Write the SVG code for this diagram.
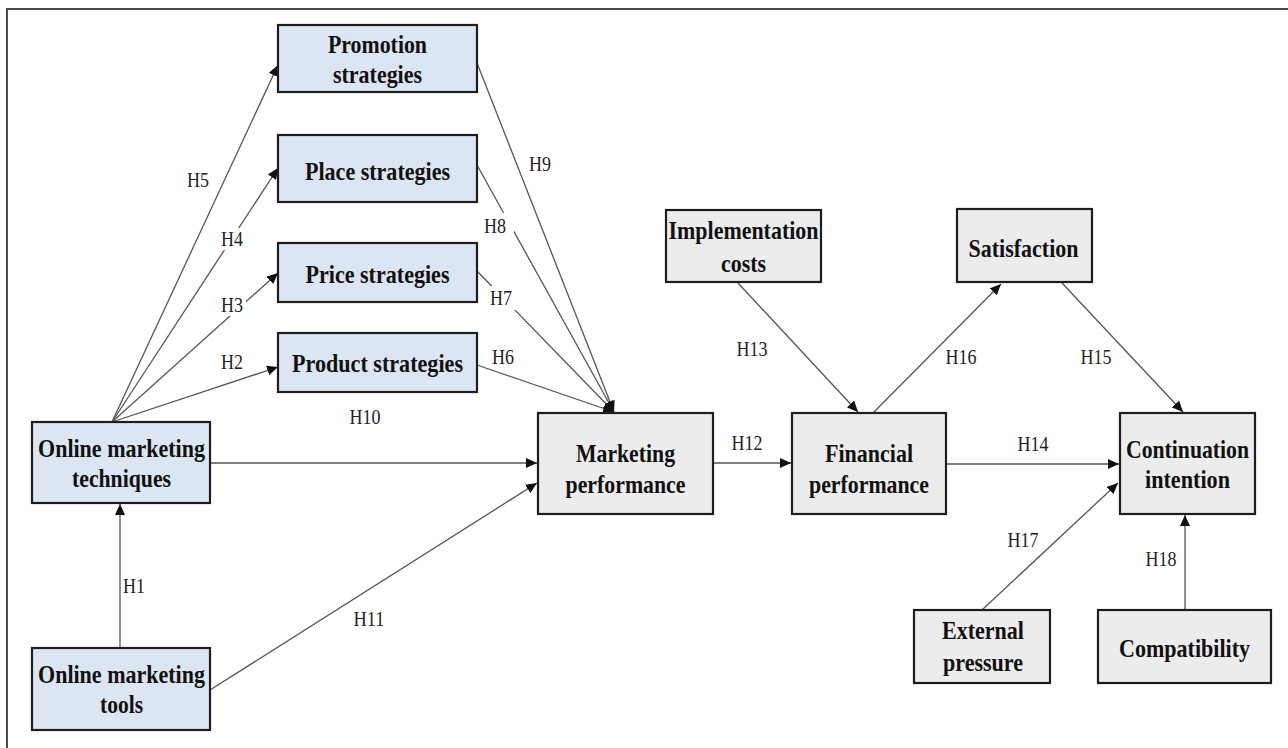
<svg xmlns="http://www.w3.org/2000/svg" width="1288" height="748" viewBox="0 0 1288 748">
<style>
.frame{stroke:#4a4a4a;stroke-width:2;fill:none}
.blue{fill:#dce6f2;stroke:#1e1e1e;stroke-width:2.2}
.gray{fill:#ececec;stroke:#1e1e1e;stroke-width:2.2}
.nt{font-family:"Liberation Serif","DejaVu Serif",serif;font-weight:bold;font-size:25px;fill:#111;text-anchor:middle}
.lb{font-family:"Liberation Serif","DejaVu Serif",serif;font-size:21px;fill:#222;text-anchor:middle}
.ln{stroke:#555;stroke-width:1.3;fill:none;marker-end:url(#ah)}
.bg{fill:#fff}
</style>
<defs>
<marker id="ah" markerUnits="userSpaceOnUse" markerWidth="12" markerHeight="10" refX="11" refY="5" orient="auto">
<path d="M0,0 L11,5 L0,10 Z" fill="#111"/>
</marker>
</defs>
<rect width="1288" height="748" fill="#fff"/>
<path class="frame" d="M7,748 L7,9 L1288,9"/>

<g id="connectors">
<line class="ln" x1="120" y1="648" x2="120" y2="504"/>
<line class="ln" x1="112" y1="422" x2="278" y2="367"/>
<line class="ln" x1="112" y1="422" x2="278" y2="273"/>
<line class="ln" x1="112" y1="422" x2="278" y2="168"/>
<line class="ln" x1="112" y1="422" x2="278" y2="65"/>
<line class="ln" x1="477" y1="365" x2="614" y2="412"/>
<line class="ln" x1="477" y1="271" x2="614" y2="412"/>
<line class="ln" x1="477" y1="165" x2="614" y2="412"/>
<line class="ln" x1="477" y1="63" x2="614" y2="412"/>
<line class="ln" x1="210" y1="463" x2="537" y2="463"/>
<line class="ln" x1="210" y1="690" x2="537" y2="483"/>
<line class="ln" x1="713" y1="463" x2="791" y2="463"/>
<line class="ln" x1="738" y1="283" x2="858" y2="412"/>
<line class="ln" x1="946" y1="464" x2="1119" y2="464"/>
<line class="ln" x1="1062" y1="283" x2="1183" y2="412"/>
<line class="ln" x1="873" y1="413" x2="1001" y2="284"/>
<line class="ln" x1="982" y1="610" x2="1118" y2="483"/>
<line class="ln" x1="1185" y1="610" x2="1185" y2="515"/>
</g>

<g id="labels">
<rect class="bg" x="219" y="228" width="27" height="22"/>
<rect class="bg" x="219" y="294" width="27" height="22"/>
<rect class="bg" x="486" y="286" width="30" height="24"/>
<rect class="bg" x="483" y="213" width="31" height="23"/>
<text class="lb" x="134" y="593" textLength="22" lengthAdjust="spacingAndGlyphs">H1</text>
<text class="lb" x="232" y="369" textLength="22" lengthAdjust="spacingAndGlyphs">H2</text>
<text class="lb" x="232" y="312" textLength="22" lengthAdjust="spacingAndGlyphs">H3</text>
<text class="lb" x="232" y="246" textLength="22" lengthAdjust="spacingAndGlyphs">H4</text>
<text class="lb" x="198" y="187" textLength="22" lengthAdjust="spacingAndGlyphs">H5</text>
<text class="lb" x="503" y="364" textLength="22" lengthAdjust="spacingAndGlyphs">H6</text>
<text class="lb" x="501" y="305" textLength="22" lengthAdjust="spacingAndGlyphs">H7</text>
<text class="lb" x="495" y="233" textLength="22" lengthAdjust="spacingAndGlyphs">H8</text>
<text class="lb" x="540" y="171" textLength="22" lengthAdjust="spacingAndGlyphs">H9</text>
<text class="lb" x="365" y="424" textLength="31" lengthAdjust="spacingAndGlyphs">H10</text>
<text class="lb" x="369" y="626" textLength="31" lengthAdjust="spacingAndGlyphs">H11</text>
<text class="lb" x="747" y="450" textLength="31" lengthAdjust="spacingAndGlyphs">H12</text>
<text class="lb" x="752" y="356" textLength="31" lengthAdjust="spacingAndGlyphs">H13</text>
<text class="lb" x="1033" y="451" textLength="31" lengthAdjust="spacingAndGlyphs">H14</text>
<text class="lb" x="1096" y="364" textLength="31" lengthAdjust="spacingAndGlyphs">H15</text>
<text class="lb" x="961" y="364" textLength="31" lengthAdjust="spacingAndGlyphs">H16</text>
<text class="lb" x="1023" y="547" textLength="31" lengthAdjust="spacingAndGlyphs">H17</text>
<text class="lb" x="1161" y="566" textLength="31" lengthAdjust="spacingAndGlyphs">H18</text>
</g>

<g id="promotion">
<rect class="blue" x="278" y="25" width="199" height="67"/>
<text class="nt" x="377.5" y="53" textLength="99" lengthAdjust="spacingAndGlyphs">Promotion</text>
<text class="nt" x="377.5" y="83" textLength="89" lengthAdjust="spacingAndGlyphs">strategies</text>
</g>
<g id="place">
<rect class="blue" x="278" y="135" width="199" height="67"/>
<text class="nt" x="377.5" y="180" textLength="145" lengthAdjust="spacingAndGlyphs">Place strategies</text>
</g>
<g id="price">
<rect class="blue" x="278" y="243" width="199" height="59"/>
<text class="nt" x="377.5" y="283" textLength="144" lengthAdjust="spacingAndGlyphs">Price strategies</text>
</g>
<g id="product">
<rect class="blue" x="278" y="333" width="199" height="59"/>
<text class="nt" x="377.5" y="372" textLength="171" lengthAdjust="spacingAndGlyphs">Product strategies</text>
</g>
<g id="techniques">
<rect class="blue" x="32" y="422" width="178" height="81"/>
<text class="nt" x="121.5" y="457" textLength="167" lengthAdjust="spacingAndGlyphs">Online marketing</text>
<text class="nt" x="121.5" y="487" textLength="99" lengthAdjust="spacingAndGlyphs">techniques</text>
</g>
<g id="tools">
<rect class="blue" x="32" y="648" width="178" height="82"/>
<text class="nt" x="121.5" y="683" textLength="167" lengthAdjust="spacingAndGlyphs">Online marketing</text>
<text class="nt" x="121.5" y="713" textLength="43" lengthAdjust="spacingAndGlyphs">tools</text>
</g>
<g id="marketing">
<rect class="gray" x="538" y="413" width="175" height="101"/>
<text class="nt" x="625.5" y="462" textLength="99" lengthAdjust="spacingAndGlyphs">Marketing</text>
<text class="nt" x="625.5" y="493" textLength="120" lengthAdjust="spacingAndGlyphs">performance</text>
</g>
<g id="implementation">
<rect class="gray" x="666" y="210" width="155" height="72"/>
<text class="nt" x="743.5" y="239" textLength="150" lengthAdjust="spacingAndGlyphs">Implementation</text>
<text class="nt" x="743.5" y="272" textLength="45" lengthAdjust="spacingAndGlyphs">costs</text>
</g>
<g id="financial">
<rect class="gray" x="792" y="413" width="154" height="101"/>
<text class="nt" x="869" y="462" textLength="88" lengthAdjust="spacingAndGlyphs">Financial</text>
<text class="nt" x="869" y="493" textLength="120" lengthAdjust="spacingAndGlyphs">performance</text>
</g>
<g id="satisfaction">
<rect class="gray" x="957" y="209" width="135" height="73"/>
<text class="nt" x="1023.5" y="257" textLength="110" lengthAdjust="spacingAndGlyphs">Satisfaction</text>
</g>
<g id="continuation">
<rect class="gray" x="1120" y="413" width="135" height="101"/>
<text class="nt" x="1187.5" y="458" textLength="123" lengthAdjust="spacingAndGlyphs">Continuation</text>
<text class="nt" x="1187.5" y="488" textLength="85" lengthAdjust="spacingAndGlyphs">intention</text>
</g>
<g id="external">
<rect class="gray" x="914" y="610" width="136" height="73"/>
<text class="nt" x="983" y="639" textLength="82" lengthAdjust="spacingAndGlyphs">External</text>
<text class="nt" x="983" y="671" textLength="80" lengthAdjust="spacingAndGlyphs">pressure</text>
</g>
<g id="compatibility">
<rect class="gray" x="1098" y="610" width="173" height="73"/>
<text class="nt" x="1184.5" y="657" textLength="131" lengthAdjust="spacingAndGlyphs">Compatibility</text>
</g>
</svg>
